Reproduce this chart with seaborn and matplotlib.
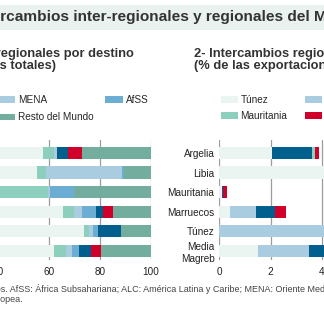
import matplotlib
matplotlib.use("Agg")
import matplotlib.pyplot as plt
from matplotlib.patches import Rectangle, Patch
import numpy as np
import pandas as pd
import seaborn as sns

sns.set_theme(style="white")
plt.rcParams['font.family'] = ['Liberation Sans', 'DejaVu Sans']

# ---------------- data ----------------
countries = ["Argelia", "Libia", "Mauritania", "Marruecos", "Túnez", "Media\nMagreb"]

# Panel 1: % of total exports by destination
left_dest = ["UE", "Magreb", "MENA", "AfSS", "Asia", "ALC", "Resto del Mundo"]
ue      = [57.5, 55.1, 30.0, 65.4, 73.6, 61.8]
magreb  = [4.5, 3.6, 29.6, 4.5, 2.0, 5.0]
mena    = [1.0, 30.1, 0.8, 3.1, 1.5, 2.3]
afss    = [0.2, 0.7, 9.3, 5.4, 2.1, 2.6]
asia    = [4.2, 0.0, 0.0, 2.8, 9.1, 4.6]
alc     = [5.7, 0.0, 0.0, 4.0, 0.0, 4.1]
resto   = [26.9, 10.5, 30.3, 14.8, 11.7, 19.6]
left_vals = [ue, magreb, mena, afss, asia, alc, resto]
left_colors = ["#eaf4f0", "#8dcfbd", "#a9cce0", "#6badd3", "#005f8d", "#d1002b", "#73ad9d"]

# Panel 2: % of total exports to each Maghreb country
right_dest = ["Túnez", "Libia", "Argelia", "Mauritania", "Marruecos"]
r_tunez      = [2.05, 5.2, 0.09, 0.43, 0.0, 1.50]
r_libia      = [0.00, 0.0, 0.00, 0.99, 6.3, 2.00]
r_argelia    = [1.57, 0.0, 0.07, 0.76, 0.0, 1.40]
r_mauritania = [0.12, 0.0, 0.00, 0.00, 0.0, 0.10]
r_marruecos  = [0.15, 0.0, 0.13, 0.42, 0.0, 0.60]
right_vals = [r_tunez, r_libia, r_argelia, r_mauritania, r_marruecos]
right_colors = ["#eaf4f0", "#a9cce0", "#005f8d", "#8dcfbd", "#d1002b"]

left_ticks = [0, 20, 40, 60, 80, 100]
right_ticks = [0, 2, 4, 6, 8]

# ---------------- figure ----------------
W = H = 324.0
fig = plt.figure(figsize=(3.24, 3.24), dpi=100)
fig.patch.set_facecolor("white")

def ax_rect(x0, x1, ytop, ybot):
    return [x0 / W, 1 - ybot / H, (x1 - x0) / W, (ybot - ytop) / H]

ax1 = fig.add_axes(ax_rect(-104, 151, 140, 260))
ax2 = fig.add_axes(ax_rect(219.3, 219.3 + 8 * 25.6, 140, 260))

def stacked(ax, vals, names, colors):
    cum = np.cumsum(np.array(vals), axis=0)
    df = pd.DataFrame({"pais": countries})
    for i in range(len(names) - 1, -1, -1):
        df["v"] = cum[i]
        sns.barplot(data=df, x="v", y="pais", order=countries, orient="h",
                    color=colors[i], saturation=1, width=0.62,
                    linewidth=0, ax=ax, zorder=2)

stacked(ax1, left_vals, left_dest, left_colors)
stacked(ax2, right_vals, right_dest, right_colors)

tick_fs = 7.2
for ax, ticks in ((ax1, left_ticks), (ax2, right_ticks)):
    ax.set_xlim(ticks[0], ticks[-1])
    ax.set_xticks(ticks)
    ax.set_xticklabels([str(t) for t in ticks])
    ax.set_ylim(5.46, -0.66)
    ax.set_xlabel("")
    ax.set_ylabel("")
    ax.set_axisbelow(True)
    ax.grid(axis="x", color="#9c9c9c", linewidth=0.9)
    ax.grid(axis="y", visible=False)
    for s in ax.spines.values():
        s.set_visible(False)
    ax.tick_params(axis="x", length=0, pad=5, labelsize=tick_fs, labelcolor="#222222")
    ax.tick_params(axis="y", length=0, pad=3.5, labelsize=tick_fs, labelcolor="#222222")
    ax.set_facecolor("none")

# ---------------- legends ----------------
h1 = [Patch(facecolor=c, edgecolor="none") for c in left_colors]
order1 = [0, 4, 1, 5, 2, 6, 3]
ax1.legend([h1[i] for i in order1], [left_dest[i] for i in order1],
           ncol=4, loc="upper right", bbox_to_anchor=(149 / W, 1 - 95 / H),
           bbox_transform=fig.transFigure, frameon=False, fontsize=tick_fs,
           handlelength=1.8, handleheight=0.6, handletextpad=0.3,
           columnspacing=1.14, borderpad=0, borderaxespad=0, labelspacing=0.75)
h2 = [Patch(facecolor=c, edgecolor="none") for c in right_colors]
order2 = [0, 3, 1, 4, 2]
ax2.legend([h2[i] for i in order2], [right_dest[i] for i in order2],
           ncol=3, loc="upper left", bbox_to_anchor=(220.5 / W, 1 - 95 / H),
           bbox_transform=fig.transFigure, frameon=False, fontsize=tick_fs,
           handlelength=1.7, handleheight=0.6, handletextpad=0.3,
           columnspacing=1.73, borderpad=0, borderaxespad=0, labelspacing=0.6)

# ---------------- texts ----------------
fig.patches.append(Rectangle((0, 1 - 30 / H), 1, 25 / H, transform=fig.transFigure,
                             facecolor="#e9f2ee", edgecolor="none", zorder=0))

renderer = fig.canvas.get_renderer()

def place_cut(full, visible, x_px, y_px, **kw):
    prefix = full[:full.index(visible)]
    t = fig.text(0, 0, prefix, **kw)
    w = t.get_window_extent(renderer=renderer).width
    t.remove()
    fig.text((x_px - w) / W, 1 - y_px / H, full, va="center", ha="left", **kw)

place_cut("Intercambios inter-regionales y regionales del Magreb", "rcambios",
          0.5, 17.5, fontsize=11.1, fontweight="bold", color="#333333")

sub_kw = dict(fontsize=9.3, fontweight="bold", color="#333333")
place_cut("1- Intercambios inter-regionales por destino", "egionales",
          0.5, 54, **sub_kw)
place_cut("(% de las exportaciones totales)", "s totales)", 0.0, 66, **sub_kw)
fig.text(194 / W, 1 - 54 / H, "2- Intercambios regionales", va="center", ha="left",
         **sub_kw)
fig.text(194 / W, 1 - 66 / H, "(% de las exportaciones totales)", va="center",
         ha="left", **sub_kw)

foot_kw = dict(fontsize=6.5, color="#444444")
place_cut("Fuente: FMI (DOTS) y cálculos propios. AfSS: África Subsahariana; "
          "ALC: América Latina y Caribe; MENA: Oriente Medio y Norte de África; UE: Unión",
          "s. AfSS", 0.3, 289, **foot_kw)
place_cut("Europea.", "opea.", 0.3, 299, **foot_kw)

fig.savefig("out.png", dpi=100)
